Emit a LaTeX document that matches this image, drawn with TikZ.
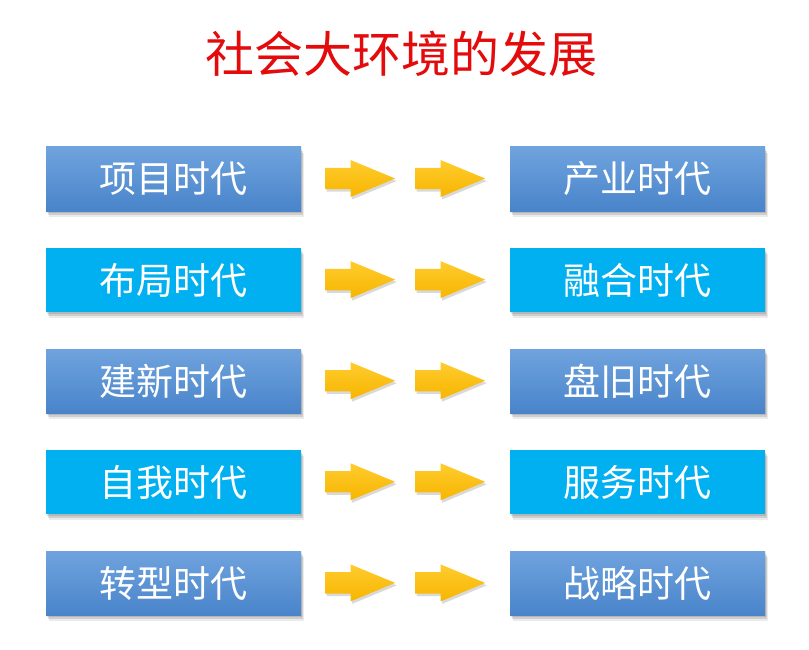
\documentclass[tikz,border=0pt]{standalone}
\usepackage{fontspec}
\setmainfont{Noto Sans CJK SC}
\usetikzlibrary{shapes.arrows,shadows}
\definecolor{eraTop}{HTML}{6FA3DE}
\definecolor{eraBottom}{HTML}{4984CA}
\definecolor{eraCyan}{HTML}{00B0F0}
\definecolor{goTop}{HTML}{FFCC2E}
\definecolor{goBottom}{HTML}{F7B500}
\definecolor{titleRed}{HTML}{E30B0B}
\tikzset{
  softshadow/.style={
    drop shadow={shadow xshift=1pt, shadow yshift=-2pt, opacity=.12, fill=black},
    drop shadow={shadow xshift=2pt, shadow yshift=-4pt, opacity=.12, fill=black},
    drop shadow={shadow xshift=3pt, shadow yshift=-6pt, opacity=.08, fill=black}},
  era/.style={minimum width=255pt, minimum height=64pt, inner sep=0pt,
    text=white, font=\fontsize{37}{40}\selectfont, softshadow},
  blueera/.style={era, top color=eraTop, bottom color=eraBottom},
  cyanera/.style={era, fill=eraCyan},
  goarrow/.style={single arrow, anchor=tail, minimum height=70pt, minimum width=37pt,
    inner sep=9.5pt, single arrow tip angle=45, top color=goTop, bottom color=goBottom,
    drop shadow={shadow xshift=1.5pt, shadow yshift=-2.5pt, opacity=.15, fill=black}}
}
\begin{document}
\begin{tikzpicture}[x=1pt, y=-1pt]
\useasboundingbox (0,0) rectangle (809,650);

% 标题
\node[text=titleRed, font=\fontsize{49}{54}\selectfont] (title) at (401,54) {社会大环境的发展};

% 左右两列与箭头
\foreach \i/\lname/\rname/\kind in {
    0/项目时代/产业时代/blueera,
    1/布局时代/融合时代/cyanera,
    2/建新时代/盘旧时代/blueera,
    3/自我时代/服务时代/cyanera,
    4/转型时代/战略时代/blueera} {
    \node[\kind] (L\i) at (173.5, 179+101.1*\i) {\lname};
    \node[\kind] (R\i) at (637.5, 179+101.1*\i) {\rname};
    \node[goarrow] (A\i) at (325, 178.5+101.1*\i) {};
    \node[goarrow] (B\i) at (415, 178.5+101.1*\i) {};
}
\end{tikzpicture}
\end{document}
